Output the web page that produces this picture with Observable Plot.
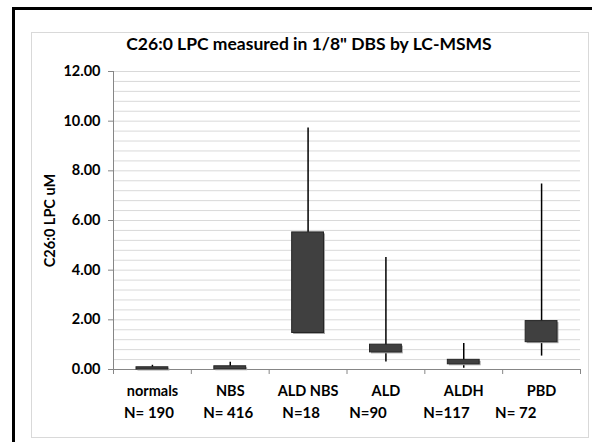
<!DOCTYPE html>
<html>
<head>
<meta charset="utf-8">
<script src="https://cdn.jsdelivr.net/npm/d3@7"></script>
<script src="https://cdn.jsdelivr.net/npm/@observablehq/plot@0.6"></script>
<style>
  html, body { margin: 0; padding: 0; background: #fff; }
  #page { position: relative; width: 592px; height: 442px; overflow: hidden; font-family: Lato, "Open Sans", sans-serif; font-weight: bold; }
  #outer { position: absolute; left: 12px; top: 7px; width: 600px; height: 460px; border: 3px solid #000; box-sizing: border-box; }
  #inner { position: absolute; left: 31px; top: 32px; width: 558px; height: 406px; border: 1px solid #d9d9d9; box-sizing: border-box; }
  #title { position: absolute; left: 31px; width: 556px; top: 33px; text-align: center; font-size: 17.5px; color: #000; }
  #chart { position: absolute; left: 0; top: 0; }
  #nlabels { position: absolute; left: 124px; top: 403px; font-size: 15px; white-space: pre; color: #000; }
</style>
</head>
<body>
<div id="page">
  <div id="outer"></div>
  <div id="inner"></div>
  <div id="chart"></div>
  <div id="title"></div>
  <div id="nlabels"></div>
</div>
<script>
const title = "C26:0 LPC measured in 1/8\" DBS by LC-MSMS";
const yLabel = "C26:0 LPC uM";
const categories = ["normals", "NBS", "ALD NBS", "ALD", "ALDH", "PBD"];
const nLabels = ["N= 190", "N= 416", "N=18", "N=90", "N=117", "N= 72"];
const whiskerHigh = [0.17, 0.29, 9.72, 4.51, 1.05, 7.47];
const whiskerLow  = [0.00, 0.01, 1.47, 0.30, 0.05, 0.54];
const boxHigh     = [0.09, 0.13, 5.52, 1.00, 0.39, 1.95];
const boxLow      = [0.00, 0.01, 1.47, 0.69, 0.21, 1.10];
const yTicks = [0, 2, 4, 6, 8, 10, 12];
const gridStep = 0.4;

const data = categories.map((c, i) => ({
  cat: c, i,
  hi: whiskerHigh[i], lo: whiskerLow[i], top: boxHigh[i], bot: boxLow[i]
}));

document.getElementById("title").textContent = title;
// N labels: a typed text line with spacing, as in the original
const gaps = [8, 8, 8, 10, 7];
document.getElementById("nlabels").textContent =
  nLabels.map((s, i) => s + (i < gaps.length ? " ".repeat(gaps[i]) : "")).join("");

const gridValues = d3.range(0, 12 + 1e-9, gridStep);

const chart = Plot.plot({
  width: 592,
  height: 442,
  marginLeft: 113,
  marginRight: 12,
  marginTop: 71,
  marginBottom: 73,
  style: { fontFamily: "Lato, 'Open Sans', sans-serif", fontWeight: "bold", fontSize: "14px", color: "#000", background: "transparent" },
  x: { type: "linear", domain: [0, categories.length] },
  y: { domain: [0, 12] },
  marks: [
    Plot.gridY(gridValues, { stroke: "#d9d9d9", strokeOpacity: 1, strokeWidth: 1 }),
    Plot.ruleX([0], { stroke: "#868686" }),
    Plot.ruleY([0], { stroke: "#868686" }),
    Plot.axisY(yTicks, { tickSize: 5, tickPadding: 8, stroke: "#868686", tickFormat: d3.format(".2f"), label: null, fontSize: 14.5 }),
    Plot.axisX(d3.range(0, categories.length + 1), { tickSize: 5, tickFormat: () => "", stroke: "#868686", label: null }),
    Plot.axisX(categories.map((c, i) => i + 0.5), { tickSize: 0, tickPadding: 16, tickFormat: d => categories[Math.floor(d)], label: null, fontSize: 14.5 }),
    Plot.text([yLabel], { frameAnchor: "left", textAnchor: "middle", dx: -63, rotate: -90, fontSize: 14.5, fontWeight: "bold" }),
    Plot.ruleX(data, { x: d => d.i + 0.5, y1: "lo", y2: "hi", stroke: "#000", strokeWidth: 1.5 }),
    Plot.rect(data, { x1: d => d.i, x2: d => d.i + 1, y1: "bot", y2: "top", insetLeft: 23, insetRight: 23, fill: "#a6a6a6", dx: 1.5, dy: 1.5 }),
    Plot.rect(data, { x1: d => d.i, x2: d => d.i + 1, y1: "bot", y2: "top", insetLeft: 23, insetRight: 23, fill: "#404040", stroke: "#262626", strokeWidth: 1 })
  ]
});
document.getElementById("chart").appendChild(chart);
</script>
</body>
</html>
